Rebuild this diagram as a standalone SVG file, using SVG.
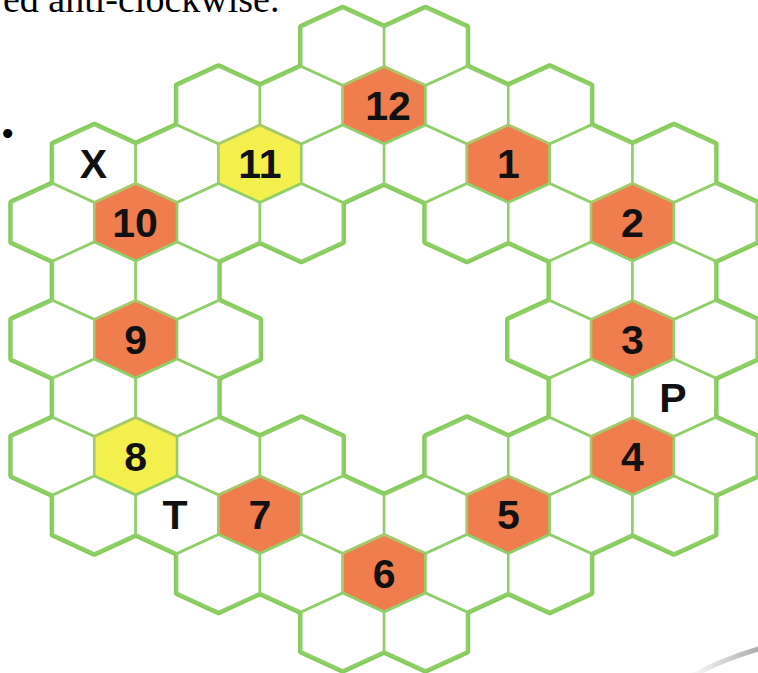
<svg xmlns="http://www.w3.org/2000/svg" xmlns:xlink="http://www.w3.org/1999/xlink" width="758" height="673" viewBox="0 0 758 673">
<defs>
<polygon id="hex" points="0,-38.75 41.4,-19.75 41.4,19.75 0,38.75 -41.4,19.75 -41.4,-19.75"/>
<linearGradient id="sw" x1="0" y1="0" x2="1" y2="0">
<stop offset="0" stop-color="#ffffff"/>
<stop offset="1" stop-color="#a8a8a8"/>
</linearGradient>
</defs>
<style>
.thick{fill:none;stroke:#84cc58;stroke-width:6.5;stroke-linejoin:round}
.cell{fill:#ffffff;stroke:#8fcf6a;stroke-width:2.5;stroke-linejoin:round}
.or{fill:#ef7d4e;stroke:#a9c86a}
.ye{fill:#f3ef4d;stroke:#a9c86a}
.lbl{font-family:"Liberation Sans",Arial,sans-serif;font-weight:bold;font-size:41px;fill:#111111;text-anchor:middle}
.top{font-family:"Liberation Serif","Times New Roman",serif;font-size:38px;fill:#000000}
</style>
<rect x="0" y="0" width="758" height="673" fill="#ffffff"/>
<text class="top" x="3" y="12">ed anti-clockwise.</text>
<text class="top" x="1" y="147">•</text>
<path d="M 688 678 Q 720 660 762 648" fill="none" stroke="url(#sw)" stroke-width="5"/>
<g id="grid-outline">
<use href="#hex" class="thick" x="342.7" y="46.75"/><use href="#hex" class="thick" x="425.5" y="46.75"/>
<use href="#hex" class="thick" x="218.5" y="105.25"/><use href="#hex" class="thick" x="301.3" y="105.25"/><use href="#hex" class="thick" x="384.1" y="105.25"/><use href="#hex" class="thick" x="466.9" y="105.25"/><use href="#hex" class="thick" x="549.7" y="105.25"/>
<use href="#hex" class="thick" x="94.3" y="163.75"/><use href="#hex" class="thick" x="177.1" y="163.75"/><use href="#hex" class="thick" x="259.9" y="163.75"/><use href="#hex" class="thick" x="342.7" y="163.75"/><use href="#hex" class="thick" x="425.5" y="163.75"/><use href="#hex" class="thick" x="508.3" y="163.75"/><use href="#hex" class="thick" x="591.1" y="163.75"/><use href="#hex" class="thick" x="673.9" y="163.75"/>
<use href="#hex" class="thick" x="52.9" y="222.25"/><use href="#hex" class="thick" x="135.7" y="222.25"/><use href="#hex" class="thick" x="218.5" y="222.25"/><use href="#hex" class="thick" x="301.3" y="222.25"/><use href="#hex" class="thick" x="466.9" y="222.25"/><use href="#hex" class="thick" x="549.7" y="222.25"/><use href="#hex" class="thick" x="632.5" y="222.25"/><use href="#hex" class="thick" x="715.3" y="222.25"/>
<use href="#hex" class="thick" x="94.3" y="280.75"/><use href="#hex" class="thick" x="177.1" y="280.75"/><use href="#hex" class="thick" x="591.1" y="280.75"/><use href="#hex" class="thick" x="673.9" y="280.75"/>
<use href="#hex" class="thick" x="52.9" y="339.25"/><use href="#hex" class="thick" x="135.7" y="339.25"/><use href="#hex" class="thick" x="218.5" y="339.25"/><use href="#hex" class="thick" x="549.7" y="339.25"/><use href="#hex" class="thick" x="632.5" y="339.25"/><use href="#hex" class="thick" x="715.3" y="339.25"/>
<use href="#hex" class="thick" x="94.3" y="397.75"/><use href="#hex" class="thick" x="177.1" y="397.75"/><use href="#hex" class="thick" x="591.1" y="397.75"/><use href="#hex" class="thick" x="673.9" y="397.75"/>
<use href="#hex" class="thick" x="52.9" y="456.25"/><use href="#hex" class="thick" x="135.7" y="456.25"/><use href="#hex" class="thick" x="218.5" y="456.25"/><use href="#hex" class="thick" x="301.3" y="456.25"/><use href="#hex" class="thick" x="466.9" y="456.25"/><use href="#hex" class="thick" x="549.7" y="456.25"/><use href="#hex" class="thick" x="632.5" y="456.25"/><use href="#hex" class="thick" x="715.3" y="456.25"/>
<use href="#hex" class="thick" x="94.3" y="514.75"/><use href="#hex" class="thick" x="177.1" y="514.75"/><use href="#hex" class="thick" x="259.9" y="514.75"/><use href="#hex" class="thick" x="342.7" y="514.75"/><use href="#hex" class="thick" x="425.5" y="514.75"/><use href="#hex" class="thick" x="508.3" y="514.75"/><use href="#hex" class="thick" x="591.1" y="514.75"/><use href="#hex" class="thick" x="673.9" y="514.75"/>
<use href="#hex" class="thick" x="218.5" y="573.25"/><use href="#hex" class="thick" x="301.3" y="573.25"/><use href="#hex" class="thick" x="384.1" y="573.25"/><use href="#hex" class="thick" x="466.9" y="573.25"/><use href="#hex" class="thick" x="549.7" y="573.25"/>
<use href="#hex" class="thick" x="342.7" y="631.75"/><use href="#hex" class="thick" x="425.5" y="631.75"/>
</g>
<g id="r0k8"><use href="#hex" class="cell" x="342.7" y="46.75"/></g>
<g id="r0k10"><use href="#hex" class="cell" x="425.5" y="46.75"/></g>
<g id="r1k5"><use href="#hex" class="cell" x="218.5" y="105.25"/></g>
<g id="r1k7"><use href="#hex" class="cell" x="301.3" y="105.25"/></g>
<g id="hex-12"><use href="#hex" class="cell or" x="384.1" y="105.25"/><text class="lbl" x="388" y="119.5">12</text></g>
<g id="r1k11"><use href="#hex" class="cell" x="466.9" y="105.25"/></g>
<g id="r1k13"><use href="#hex" class="cell" x="549.7" y="105.25"/></g>
<g id="hex-X"><use href="#hex" class="cell" x="94.3" y="163.75"/><text class="lbl" x="93.5" y="178">X</text></g>
<g id="r2k4"><use href="#hex" class="cell" x="177.1" y="163.75"/></g>
<g id="hex-11"><use href="#hex" class="cell ye" x="259.9" y="163.75"/><text class="lbl" x="260" y="178">11</text></g>
<g id="r2k8"><use href="#hex" class="cell" x="342.7" y="163.75"/></g>
<g id="r2k10"><use href="#hex" class="cell" x="425.5" y="163.75"/></g>
<g id="hex-1"><use href="#hex" class="cell or" x="508.3" y="163.75"/><text class="lbl" x="508.3" y="178">1</text></g>
<g id="r2k14"><use href="#hex" class="cell" x="591.1" y="163.75"/></g>
<g id="r2k16"><use href="#hex" class="cell" x="673.9" y="163.75"/></g>
<g id="r3k1"><use href="#hex" class="cell" x="52.9" y="222.25"/></g>
<g id="hex-10"><use href="#hex" class="cell or" x="135.7" y="222.25"/><text class="lbl" x="135" y="236.5">10</text></g>
<g id="r3k5"><use href="#hex" class="cell" x="218.5" y="222.25"/></g>
<g id="r3k7"><use href="#hex" class="cell" x="301.3" y="222.25"/></g>
<g id="r3k11"><use href="#hex" class="cell" x="466.9" y="222.25"/></g>
<g id="r3k13"><use href="#hex" class="cell" x="549.7" y="222.25"/></g>
<g id="hex-2"><use href="#hex" class="cell or" x="632.5" y="222.25"/><text class="lbl" x="632.5" y="236.5">2</text></g>
<g id="r3k17"><use href="#hex" class="cell" x="715.3" y="222.25"/></g>
<g id="r4k2"><use href="#hex" class="cell" x="94.3" y="280.75"/></g>
<g id="r4k4"><use href="#hex" class="cell" x="177.1" y="280.75"/></g>
<g id="r4k14"><use href="#hex" class="cell" x="591.1" y="280.75"/></g>
<g id="r4k16"><use href="#hex" class="cell" x="673.9" y="280.75"/></g>
<g id="r5k1"><use href="#hex" class="cell" x="52.9" y="339.25"/></g>
<g id="hex-9"><use href="#hex" class="cell or" x="135.7" y="339.25"/><text class="lbl" x="135.7" y="353.5">9</text></g>
<g id="r5k5"><use href="#hex" class="cell" x="218.5" y="339.25"/></g>
<g id="r5k13"><use href="#hex" class="cell" x="549.7" y="339.25"/></g>
<g id="hex-3"><use href="#hex" class="cell or" x="632.5" y="339.25"/><text class="lbl" x="632.5" y="353.5">3</text></g>
<g id="r5k17"><use href="#hex" class="cell" x="715.3" y="339.25"/></g>
<g id="r6k2"><use href="#hex" class="cell" x="94.3" y="397.75"/></g>
<g id="r6k4"><use href="#hex" class="cell" x="177.1" y="397.75"/></g>
<g id="r6k14"><use href="#hex" class="cell" x="591.1" y="397.75"/></g>
<g id="hex-P"><use href="#hex" class="cell" x="673.9" y="397.75"/><text class="lbl" x="673" y="412">P</text></g>
<g id="r7k1"><use href="#hex" class="cell" x="52.9" y="456.25"/></g>
<g id="hex-8"><use href="#hex" class="cell ye" x="135.7" y="456.25"/><text class="lbl" x="135.7" y="470.5">8</text></g>
<g id="r7k5"><use href="#hex" class="cell" x="218.5" y="456.25"/></g>
<g id="r7k7"><use href="#hex" class="cell" x="301.3" y="456.25"/></g>
<g id="r7k11"><use href="#hex" class="cell" x="466.9" y="456.25"/></g>
<g id="r7k13"><use href="#hex" class="cell" x="549.7" y="456.25"/></g>
<g id="hex-4"><use href="#hex" class="cell or" x="632.5" y="456.25"/><text class="lbl" x="632.5" y="470.5">4</text></g>
<g id="r7k17"><use href="#hex" class="cell" x="715.3" y="456.25"/></g>
<g id="r8k2"><use href="#hex" class="cell" x="94.3" y="514.75"/></g>
<g id="hex-T"><use href="#hex" class="cell" x="177.1" y="514.75"/><text class="lbl" x="175" y="529">T</text></g>
<g id="hex-7"><use href="#hex" class="cell or" x="259.9" y="514.75"/><text class="lbl" x="259.9" y="529">7</text></g>
<g id="r8k8"><use href="#hex" class="cell" x="342.7" y="514.75"/></g>
<g id="r8k10"><use href="#hex" class="cell" x="425.5" y="514.75"/></g>
<g id="hex-5"><use href="#hex" class="cell or" x="508.3" y="514.75"/><text class="lbl" x="508.3" y="529">5</text></g>
<g id="r8k14"><use href="#hex" class="cell" x="591.1" y="514.75"/></g>
<g id="r8k16"><use href="#hex" class="cell" x="673.9" y="514.75"/></g>
<g id="r9k5"><use href="#hex" class="cell" x="218.5" y="573.25"/></g>
<g id="r9k7"><use href="#hex" class="cell" x="301.3" y="573.25"/></g>
<g id="hex-6"><use href="#hex" class="cell or" x="384.1" y="573.25"/><text class="lbl" x="384.1" y="587.5">6</text></g>
<g id="r9k11"><use href="#hex" class="cell" x="466.9" y="573.25"/></g>
<g id="r9k13"><use href="#hex" class="cell" x="549.7" y="573.25"/></g>
<g id="r10k8"><use href="#hex" class="cell" x="342.7" y="631.75"/></g>
<g id="r10k10"><use href="#hex" class="cell" x="425.5" y="631.75"/></g>
</svg>
